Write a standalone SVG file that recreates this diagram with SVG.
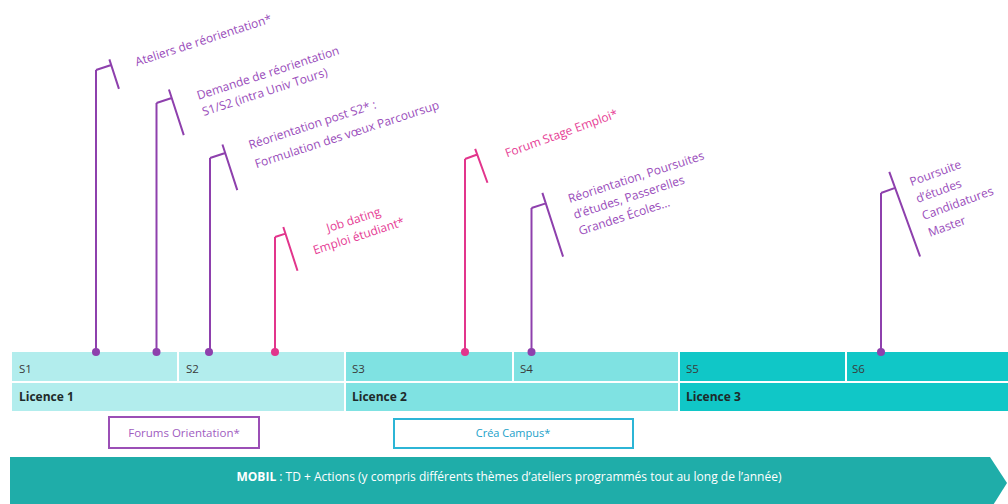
<svg xmlns="http://www.w3.org/2000/svg" width="1008" height="504" viewBox="0 0 1008 504">
<style>
text{font-family:"Open Sans","Liberation Sans",sans-serif}
.lp{stroke:#8e40ad;stroke-width:2;fill:none}
.lk{stroke:#e2358c;stroke-width:2;fill:none}
.dp{fill:#8e40ad}
.dk{fill:#e2358c}
.tp{fill:#9a4dbb;font-size:12px}
.tk{fill:#e63d95;font-size:12px}
.c1{fill:#b2eded}
.c2{fill:#7fe2e2}
.c3{fill:#10c7c7}
.sl{fill:#3a3a3a;font-size:11.5px}
.ll{fill:#1e2a2a;font-size:12px;font-weight:bold}
</style>
<rect width="1008" height="504" fill="#ffffff"/>

<g id="bar">
  <g id="s1"><rect class="c1" x="12" y="352" width="165" height="29"/><text class="sl" x="19" y="373">S1</text></g>
  <g id="s2"><rect class="c1" x="179" y="352" width="165" height="29"/><text class="sl" x="186" y="373">S2</text></g>
  <g id="s3"><rect class="c2" x="346" y="352" width="166" height="29"/><text class="sl" x="352" y="373">S3</text></g>
  <g id="s4"><rect class="c2" x="514" y="352" width="164" height="29"/><text class="sl" x="520" y="373">S4</text></g>
  <g id="s5"><rect class="c3" x="680" y="352" width="165" height="29"/><text class="sl" x="686" y="373">S5</text></g>
  <g id="s6"><rect class="c3" x="847" y="352" width="161" height="29"/><text class="sl" x="852" y="373">S6</text></g>
  <g id="licence1"><rect class="c1" x="12" y="383" width="332" height="28"/><text class="ll" x="19" y="401">Licence 1</text></g>
  <g id="licence2"><rect class="c2" x="346" y="383" width="332" height="28"/><text class="ll" x="352" y="401">Licence 2</text></g>
  <g id="licence3"><rect class="c3" x="680" y="383" width="328" height="28"/><text class="ll" x="686" y="401">Licence 3</text></g>
</g>

<g id="forums-orientation">
  <rect x="109" y="417" width="150" height="31" fill="#ffffff" stroke="#9b4fb6" stroke-width="2"/>
  <text x="184" y="437" text-anchor="middle" style="fill:#a05cbf;font-size:11.5px">Forums Orientation*</text>
</g>
<g id="crea-campus">
  <rect x="394" y="419" width="239" height="29" fill="#ffffff" stroke="#2cb5d6" stroke-width="2"/>
  <text x="513" y="437" text-anchor="middle" style="fill:#1a9fc9;font-size:11px">Créa Campus*</text>
</g>
<g id="mobil">
  <path d="M10,457 H990 L1007,483 L990,510 H10 Z" fill="#1fada9"/>
  <text x="509" y="481" text-anchor="middle" style="fill:#ffffff;font-size:12px"><tspan font-weight="bold">MOBIL</tspan> : TD + Actions (y compris différents thèmes d’ateliers programmés tout au long de l’année)</text>
</g>

<g id="connectors">
  <line class="lp" x1="96" y1="352" x2="96" y2="70"/>
  <line class="lp" x1="156.5" y1="352" x2="156.5" y2="103"/>
  <line class="lp" x1="210" y1="352" x2="210" y2="158"/>
  <line class="lk" x1="275" y1="352" x2="275" y2="237"/>
  <line class="lk" x1="465" y1="352" x2="465" y2="159"/>
  <line class="lp" x1="531.5" y1="352" x2="531.5" y2="208"/>
  <line class="lp" x1="881" y1="352" x2="881" y2="193"/>
  <circle class="dp" cx="96" cy="352" r="4"/>
  <circle class="dp" cx="156.5" cy="352" r="4"/>
  <circle class="dp" cx="209" cy="352" r="4"/>
  <circle class="dk" cx="275" cy="352" r="4"/>
  <circle class="dk" cx="465" cy="352" r="4"/>
  <circle class="dp" cx="531.5" cy="352" r="4"/>
  <circle class="dp" cx="881" cy="352" r="4"/>
</g>

<g id="callout-ateliers" transform="translate(96,70) rotate(-18)">
  <path class="lp" d="M0,0 H16 M16,-6 V25"/>
  <text class="tp" x="40" y="9">Ateliers de réorientation*</text>
</g>
<g id="callout-demande" transform="translate(156.5,103) rotate(-18)">
  <path class="lp" d="M0,0 H16 M16,-9 V39"/>
  <text class="tp" x="41" y="10">Demande de réorientation</text>
  <text class="tp" x="41" y="27">S1/S2 (intra Univ Tours)</text>
</g>
<g id="callout-reorientation-s2" transform="translate(210,158) rotate(-18)">
  <path class="lp" d="M0,0 H16 M16,-9 V39"/>
  <text class="tp" x="41" y="4">Réorientation post S2* :</text>
  <text class="tp" x="41" y="24">Formulation des vœux Parcoursup</text>
</g>
<g id="callout-job-dating" transform="translate(275,237) rotate(-18)">
  <path class="lk" d="M0,0 H11 M11,-7 V39"/>
  <text class="tk" x="80" y="12" text-anchor="middle">Job dating</text>
  <text class="tk" x="80" y="29" text-anchor="middle">Emploi étudiant*</text>
</g>
<g id="callout-forum-stage" transform="translate(465,159) rotate(-20)">
  <path class="lk" d="M0,0 H13 M13,-6 V30"/>
  <text class="tk" x="40" y="13">Forum Stage Emploi*</text>
</g>
<g id="callout-poursuites" transform="translate(531.5,208) rotate(-18)">
  <path class="lp" d="M0,0 H15 M15,-11 V56"/>
  <text class="tp" x="38" y="7">Réorientation, Poursuites</text>
  <text class="tp" x="38" y="24">d’études, Passerelles</text>
  <text class="tp" x="38" y="41">Grandes Écoles…</text>
</g>
<g id="callout-master" transform="translate(881,193) rotate(-20)">
  <path class="lp" d="M0,0 H15 M15,-17 V73"/>
  <text class="tp" x="31" y="4">Poursuite</text>
  <text class="tp" x="31" y="22">d’études</text>
  <text class="tp" x="31" y="40">Candidatures</text>
  <text class="tp" x="31" y="58">Master</text>
</g>
</svg>
